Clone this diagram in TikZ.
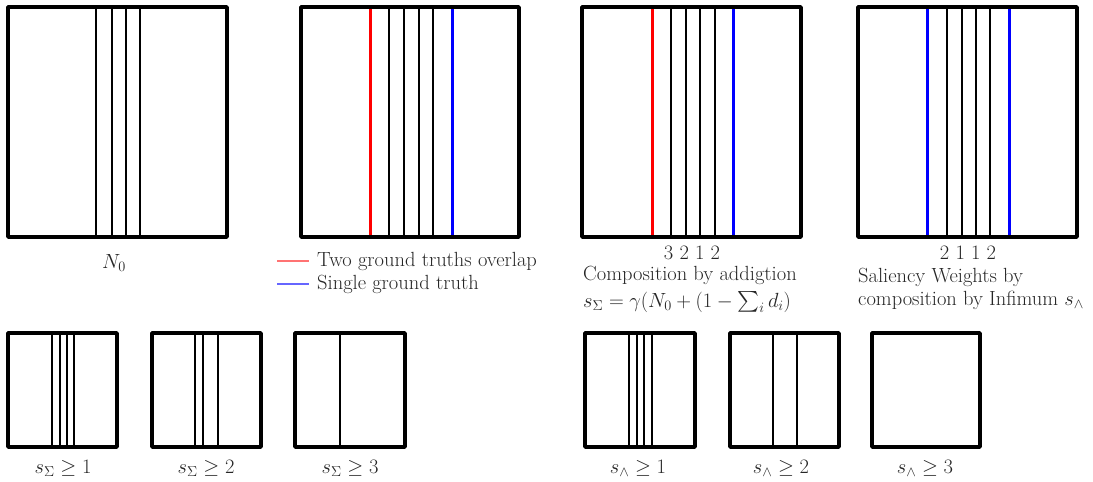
\documentclass[tikz,border=0pt]{standalone}
\usepackage{fix-cm}
\usepackage{exscale}
\begin{document}
\begin{tikzpicture}[x=1pt,y=-1pt,
  frame/.style={draw,line width=3.5pt,line join=round},
  gl/.style={line width=1.4pt},
  rl/.style={line width=3pt,red},
  bl/.style={line width=3pt,blue},
  lbl/.style={inner sep=0pt,text=black!85,font=\fontsize{20.5}{24}\selectfont,
    text height=13pt,text depth=3pt},
  every node/.style={lbl}]
\useasboundingbox (0,0) rectangle (1093,482);
% ---- top row ----
% box 1
\foreach \x in {96,112,126,140} \draw[gl] (\x,7) -- (\x,237);
\draw[frame] (8,7) rectangle (227,237);
\node (n0) at (114,263) {$N_0$};
% box 2
\foreach \x in {389,404,419,433} \draw[gl] (\x,7) -- (\x,237);
\draw[rl] (370,7) -- (370,237);
\draw[bl] (452,7) -- (452,237);
\draw[frame] (301,7) rectangle (519,237);
\coordinate (lr1) at (277,261); \coordinate (lr2) at (309,261);
\coordinate (lb1) at (277,284); \coordinate (lb2) at (309,284);
\draw[line width=1.4pt,red!55] (lr1) -- (lr2);
\draw[line width=1.4pt,blue!60] (lb1) -- (lb2);
\node[anchor=west] (t1) at (317,261) {Two ground truths overlap};
\node[anchor=west] (t2) at (317,284) {Single ground truth};
% box 3
\foreach \x in {671,686,700,715} \draw[gl] (\x,7) -- (\x,237);
\draw[rl] (652,7) -- (652,237);
\draw[bl] (733,7) -- (733,237);
\draw[frame] (582,7) rectangle (801,237);
\node (num3) at (692,254) {3 2 1 2};
\node[anchor=west] (c1) at (583,275) {Composition by addigtion};
\node[anchor=west] (c2) at (583,302) {$s_\Sigma = \gamma(N_0 + (1 - \sum_i d_i)$};
% box 4
\foreach \x in {947,962,976,990} \draw[gl] (\x,7) -- (\x,237);
\draw[bl] (927,7) -- (927,237);
\draw[bl] (1009,7) -- (1009,237);
\draw[frame] (858,7) rectangle (1077,237);
\node (num4) at (968,254) {2 1 1 2};
\node[anchor=west] (s1) at (858,277) {Saliency Weights by};
\node[anchor=west] (s2) at (858,300) {composition by Infimum $s_\wedge$};
% ---- bottom row ----
\foreach \x in {52,60,67,74} \draw[gl] (\x,333) -- (\x,447);
\draw[frame] (8,333) rectangle (117,447);
\node (b1) at (63,468) {$s_\Sigma \geq 1$};
\foreach \x in {195,203,218} \draw[gl] (\x,333) -- (\x,447);
\draw[frame] (152,333) rectangle (261,447);
\node (b2) at (206,468) {$s_\Sigma \geq 2$};
\draw[gl] (340,333) -- (340,447);
\draw[frame] (295,333) rectangle (405,447);
\node (b3) at (350,468) {$s_\Sigma \geq 3$};
\foreach \x in {629,637,644,652} \draw[gl] (\x,333) -- (\x,447);
\draw[frame] (585,333) rectangle (695,447);
\node (b4) at (638,468) {$s_\wedge \geq 1$};
\foreach \x in {773,797} \draw[gl] (\x,333) -- (\x,447);
\draw[frame] (730,333) rectangle (839,447);
\node (b5) at (781,468) {$s_\wedge \geq 2$};
\draw[frame] (872,333) rectangle (980,447);
\node (b6) at (925,468) {$s_\wedge \geq 3$};
\end{tikzpicture}
\end{document}
